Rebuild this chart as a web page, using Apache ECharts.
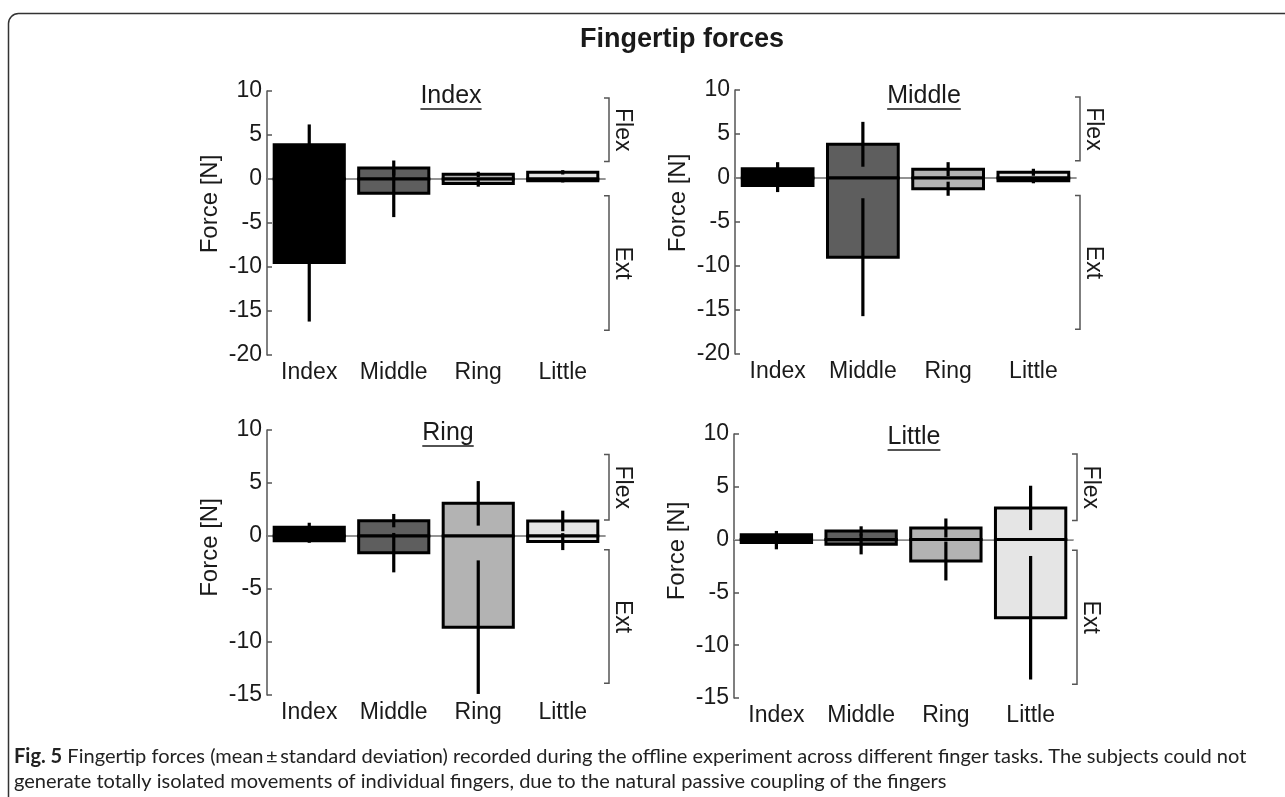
<!DOCTYPE html>
<html><head><meta charset="utf-8">
<script src="https://cdn.jsdelivr.net/npm/echarts@6/dist/echarts.min.js"></script>
<style>html,body{margin:0;padding:0;background:#fff}#c{width:1285px;height:797px}</style>
</head><body><div id="c"></div>
<script>
// ---------- data ----------
const fingers = ['Index', 'Middle', 'Ring', 'Little'];
const taskTitles = ['Index', 'Middle', 'Ring', 'Little'];
const fingerColors = ['#000000', '#5e5e5e', '#b3b3b3', '#e5e5e5'];
const axisMin = [-20, -20, -15, -15];
const axisMax = [10, 10, 10, 10];
const axisStep = 5;

// Index task
const indexTaskFlexMean = [3.9, 1.25, 0.53, 0.76];
const indexTaskFlexSd   = [2.3, 0.85, 0.3, 0.25];
const indexTaskExtMean  = [-9.5, -1.63, -0.5, -0.19];
const indexTaskExtSd    = [6.7, 2.7, 0.37, 0.2];
// Middle task
const middleTaskFlexMean = [1.05, 3.83, 1.0, 0.65];
const middleTaskFlexSd   = [0.75, 2.55, 0.8, 0.4];
const middleTaskExtMean  = [-0.85, -9.0, -1.22, -0.3];
const middleTaskExtSd    = [0.75, 6.7, 0.8, 0.3];
// Ring task
const ringTaskFlexMean = [0.82, 1.45, 3.08, 1.42];
const ringTaskFlexSd   = [0.43, 0.63, 2.1, 0.97];
const ringTaskExtMean  = [-0.44, -1.57, -8.6, -0.53];
const ringTaskExtSd    = [0.2, 1.86, 6.3, 0.8];
// Little task
const littleTaskFlexMean = [0.47, 0.82, 1.1, 3.0];
const littleTaskFlexSd   = [0.35, 0.44, 0.9, 2.1];
const littleTaskExtMean  = [-0.28, -0.45, -2.03, -7.4];
const littleTaskExtSd    = [0.64, 0.95, 1.84, 5.85];

// Flex / Ext bracket ranges (value space) per panel
const flexBracket = [[9.2, 2.0], [9.2, 1.95], [7.7, 1.5], [8.1, 1.8]];
const extBracket  = [[-1.9, -17.2], [-2.0, -17.2], [-1.3, -13.9], [-1.0, -13.7]];

const mainTitle = 'Fingertip forces';
const yName = 'Force [N]';
const captionBold = 'Fig. 5';
const captionLine1 = ' Fingertip forces (mean\u2009\u00b1\u2009standard deviation) recorded during the offline experiment across different finger tasks. The subjects could not';
const captionLine2 = 'generate totally isolated movements of individual fingers, due to the natural passive coupling of the fingers';

// ---------- layout ----------
const FONT = '"Liberation Sans", Arial, sans-serif';
const CAPFONT = 'Lato, "Open Sans", sans-serif';
const grids = [
  {left: 267, top: 91, width: 338, height: 264},
  {left: 735, top: 90, width: 341, height: 264},
  {left: 267, top: 430, width: 338, height: 265},
  {left: 734, top: 434, width: 339, height: 264}
];
const titlePos = [[451, 96], [924, 96], [448, 433], [914, 437]];
const namePad = [38, 38, 30, 30];

const taskData = [
  [indexTaskFlexMean, indexTaskFlexSd, indexTaskExtMean, indexTaskExtSd],
  [middleTaskFlexMean, middleTaskFlexSd, middleTaskExtMean, middleTaskExtSd],
  [ringTaskFlexMean, ringTaskFlexSd, ringTaskExtMean, ringTaskExtSd],
  [littleTaskFlexMean, littleTaskFlexSd, littleTaskExtMean, littleTaskExtSd]
];

const axisColor = '#555';
const textColor = '#1a1a1a';

function renderZero(params, api) {
  const cs = params.coordSys;
  const y = api.coord([0, 0])[1];
  return {type: 'line', shape: {x1: cs.x, y1: y, x2: cs.x + cs.width, y2: y},
    style: {stroke: '#a8a8a8', lineWidth: 1.2}};
}

function renderBars(params, api) {
  const i = api.value(0);
  const fm = api.value(1), fs = api.value(2), em = api.value(3), es = api.value(4);
  const p0 = api.coord([i, 0]);
  const yf = api.coord([i, fm])[1];
  const ye = api.coord([i, em])[1];
  const bw = api.size([1, 0])[0] * 0.83;
  const x = p0[0] - bw / 2;
  const fill = fingerColors[i];
  const f1 = api.coord([i, fm + fs])[1], f2 = api.coord([i, fm - fs])[1];
  const e1 = api.coord([i, em + es])[1], e2 = api.coord([i, em - es])[1];
  const st = {fill: fill, stroke: '#000', lineWidth: 3};
  return {type: 'group', children: [
    {type: 'rect', shape: {x: x, y: yf, width: bw, height: p0[1] - yf}, style: st},
    {type: 'rect', shape: {x: x, y: p0[1], width: bw, height: ye - p0[1]}, style: st},
    {type: 'line', shape: {x1: p0[0], y1: f1, x2: p0[0], y2: f2}, style: {stroke: '#000', lineWidth: 3.2}},
    {type: 'line', shape: {x1: p0[0], y1: e1, x2: p0[0], y2: e2}, style: {stroke: '#000', lineWidth: 3.2}}
  ]};
}

function makeBracketRenderer(k) {
  return function (params, api) {
    const cs = params.coordSys;
    const bx = cs.x + cs.width + 4;
    const items = [];
    const ranges = [[flexBracket[k], 'Flex'], [extBracket[k], 'Ext']];
    ranges.forEach(function (r) {
      const y1 = api.coord([0, r[0][0]])[1];
      const y2 = api.coord([0, r[0][1]])[1];
      items.push({type: 'polyline', shape: {points: [[bx - 5, y1], [bx, y1], [bx, y2], [bx - 5, y2]]},
        style: {stroke: '#555', lineWidth: 1.5, fill: null}});
      items.push({type: 'text', x: bx + 13, y: (y1 + y2) / 2, rotation: -Math.PI / 2,
        style: {text: r[1], fontSize: 23, fontFamily: FONT, fill: textColor, align: 'center', verticalAlign: 'middle'}});
    });
    return {type: 'group', children: items};
  };
}

const option = {
  animation: false,
  backgroundColor: '#fff',
  grid: grids.map(g => Object.assign({containLabel: false}, g)),
  xAxis: grids.map((g, k) => ({
    gridIndex: k, type: 'category', data: fingers,
    axisLine: {lineStyle: {color: axisColor, width: 1.5}},
    axisTick: {show: true, inside: true, alignWithLabel: true, interval: 0, length: 5, lineStyle: {color: axisColor, width: 1.5}},
    axisLabel: {color: textColor, fontSize: 23, fontFamily: FONT, margin: 6, interval: 0, hideOverlap: false},
    splitLine: {show: false}
  })),
  yAxis: grids.map((g, k) => ({
    gridIndex: k, type: 'value', min: axisMin[k], max: axisMax[k], interval: axisStep,
    axisLine: {show: true, lineStyle: {color: axisColor, width: 1.5}},
    axisTick: {show: true, inside: true, length: 5, lineStyle: {color: axisColor, width: 1.5}},
    axisLabel: {color: textColor, fontSize: 23, fontFamily: FONT, margin: 5},
    splitLine: {show: false},
    name: yName, nameLocation: 'middle', nameGap: 45,
    nameTextStyle: {color: textColor, fontSize: 24, fontFamily: FONT, padding: [0, 0, 0, namePad[k]]}
  })),
  series: [],
  graphic: []
};

grids.forEach((g, k) => {
  option.series.push({
    type: 'custom', xAxisIndex: k, yAxisIndex: k, z: 1, silent: true,
    renderItem: renderZero, data: [[0, 0]]
  });
  const d = taskData[k];
  option.series.push({
    type: 'custom', xAxisIndex: k, yAxisIndex: k, z: 3, silent: true, clip: false,
    renderItem: renderBars,
    encode: {x: 0, y: [1, 3]},
    data: fingers.map((f, i) => [i, d[0][i], d[1][i], d[2][i], d[3][i]])
  });
  option.series.push({
    type: 'custom', xAxisIndex: k, yAxisIndex: k, z: 3, silent: true, clip: false,
    renderItem: makeBracketRenderer(k), data: [[0, 0]]
  });
});

// text measure
const mctx = document.createElement('canvas').getContext('2d');

// caption size fitted to the reference line width
mctx.font = 'bold 20px Lato';
let capW = mctx.measureText(captionBold).width;
mctx.font = '20px Lato';
capW += mctx.measureText(captionLine1).width;
const capSize = Math.max(15, Math.min(20.5, 20 * 1233 / capW));
mctx.font = '25px "Liberation Sans"';

const graphics = [];
graphics.push({type: 'rect', left: 6, top: 11, shape: {x: 0, y: 0, width: 1320, height: 820, r: 10},
  style: {fill: null, stroke: '#333', lineWidth: 1.5}, z: 0, silent: true});
graphics.push({type: 'text', x: 682, y: 40, style: {text: mainTitle, fontSize: 27, fontWeight: 'bold', fontFamily: FONT,
  fill: textColor, align: 'center', verticalAlign: 'middle'}});
taskTitles.forEach((t, k) => {
  const [cx, cy] = titlePos[k];
  const w = mctx.measureText(t).width;
  graphics.push({type: 'text', x: cx, y: cy, style: {text: t, fontSize: 25, fontFamily: FONT, fill: textColor,
    align: 'center', verticalAlign: 'middle'}});
  graphics.push({type: 'line', shape: {x1: cx - w / 2, y1: cy + 13, x2: cx + w / 2, y2: cy + 13},
    style: {stroke: textColor, lineWidth: 1.6}});
});
graphics.push({type: 'text', x: 14, y: 757, style: {text: '{b|' + captionBold + '}' + captionLine1,
  fontSize: capSize, fontFamily: CAPFONT, fill: '#222', verticalAlign: 'middle',
  rich: {b: {fontWeight: 'bold', fontSize: capSize, fontFamily: CAPFONT, fill: '#222'}}}});
graphics.push({type: 'text', x: 14, y: 782, style: {text: captionLine2, fontSize: capSize, fontFamily: CAPFONT,
  fill: '#222', verticalAlign: 'middle'}});
option.graphic = graphics;

const chart = echarts.init(document.getElementById('c'), null, {renderer: 'canvas'});
chart.setOption(option);
</script>
</body></html>
